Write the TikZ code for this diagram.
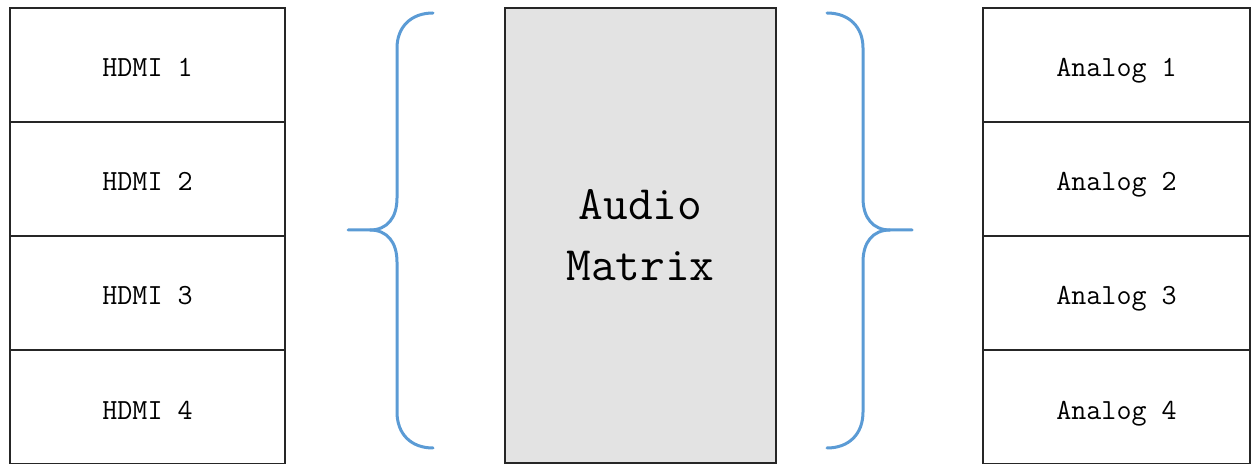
\documentclass[tikz,border=0pt]{standalone}
\usepackage{fontspec}
\usetikzlibrary{positioning}
\definecolor{bracecol}{HTML}{5B9BD5}
\definecolor{matrixfill}{HTML}{E3E3E3}

\begin{document}
\begin{tikzpicture}[x=0.5pt, y=-0.5pt,
  port/.style={draw=black!85, line width=0.8pt, fill=white, outer sep=0pt,
               minimum height=57pt, inner sep=0pt, text height=12pt, text depth=0pt,
               font=\ttfamily\fontsize{14.6}{17}\selectfont},
  inport/.style={port, minimum width=137.5pt},
  outport/.style={port, minimum width=133.5pt},
  core/.style={draw=black!85, line width=0.8pt, fill=matrixfill, align=center,
               minimum width=135.5pt, minimum height=227.5pt,
               font=\ttfamily\fontsize{24}{30.5}\selectfont},
  brace/.style={draw=bracecol, line width=1.5pt, line cap=round}]
  \useasboundingbox (0,0) rectangle (1252,464);
  % inputs
  \node[inport] (hdmi1) at (147.5,65) {HDMI 1};
  \node[inport, below=0pt of hdmi1] (hdmi2) {HDMI 2};
  \node[inport, below=0pt of hdmi2] (hdmi3) {HDMI 3};
  \node[inport, below=0pt of hdmi3] (hdmi4) {HDMI 4};
  % matrix
  \node[core] (matrix) at (640.5,235.5) {Audio\\Matrix};
  % outputs
  \node[outport] (analog1) at (1116.5,65) {Analog 1};
  \node[outport, below=0pt of analog1] (analog2) {Analog 2};
  \node[outport, below=0pt of analog2] (analog3) {Analog 3};
  \node[outport, below=0pt of analog3] (analog4) {Analog 4};
  % braces
  \draw[brace] (433,13) .. controls (411,13) and (397,27) .. (397,48) -- (397,198)
    .. controls (397,218) and (387,230) .. (370,230) -- (348,230);
  \draw[brace] (370,230) .. controls (387,230) and (397,242) .. (397,262) -- (397,412)
    .. controls (397,434) and (411,448) .. (433,448);
  \draw[brace] (827,13) .. controls (849,13) and (863,27) .. (863,48) -- (863,198)
    .. controls (863,218) and (873,230) .. (890,230) -- (912,230);
  \draw[brace] (890,230) .. controls (873,230) and (863,242) .. (863,262) -- (863,412)
    .. controls (863,434) and (849,448) .. (827,448);
\end{tikzpicture}
\end{document}
